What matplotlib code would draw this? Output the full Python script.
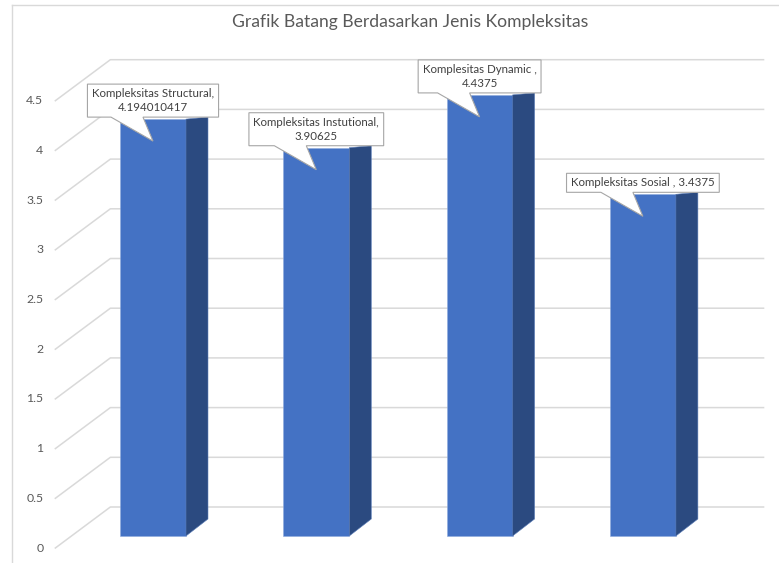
import matplotlib
matplotlib.use("Agg")
import matplotlib.pyplot as plt
import matplotlib.transforms as mt
from matplotlib.patches import Polygon
from matplotlib.lines import Line2D
import numpy as np

# ---------------- data ----------------
categories = ["Kompleksitas Structural", "Kompleksitas Instutional",
              "Komplesitas Dynamic ", "Kompleksitas Sosial "]
values = [4.194010417, 3.90625, 4.4375, 3.4375]
value_texts = ["4.194010417", "3.90625", "4.4375", "3.4375"]
label_separators = ["\n", "\n", "\n", " "]
y_ticks = [0, 0.5, 1, 1.5, 2, 2.5, 3, 3.5, 4, 4.5]
y_tick_labels = ["0", "0.5", "1", "1.5", "2", "2.5", "3", "3.5", "4", "4.5"]
title = "Grafik Batang Berdasarkan Jenis Kompleksitas"

# ---------------- style ----------------
FONT = "Lato"
W, H, DPI = 779, 563, 100
FRONT = "#4472C4"
SIDE = "#2B4A80"
GRID = "#D9D9D9"
TXT = "#595959"
LBL = "#404040"

fig = plt.figure(figsize=(W / DPI, H / DPI), dpi=DPI)
fig.patch.set_facecolor("white")

x0px, xstep = 153.0, 163.3
y0px, ystep = 536.0, 99.4
ax = fig.add_axes([(x0px - 0.5 * xstep) / W, (H - y0px) / H,
                   4 * xstep / W, 5 * ystep / H])
ax.set_xlim(-0.5, 3.5)
ax.set_ylim(0, 5)
ax.axis("off")

IDT = mt.IdentityTransform()


def disp(x, v):
    return np.array(ax.transData.transform((x, v)))


# chart-area border (cropped)
fig.add_artist(Line2D([12 / W, 1], [1 - 5 / H, 1 - 5 / H], color=GRID, lw=1.0,
                      transform=fig.transFigure))
fig.add_artist(Line2D([12 / W, 12 / W], [0, 1 - 5 / H], color=GRID, lw=1.0,
                      transform=fig.transFigure))

# floor / wall gridlines (3D look)
front_off = np.array([-16.0, -12.0])
back_off = np.array([39.0, 29.0])
for v, lab in zip(y_ticks, y_tick_labels):
    pl = disp(-0.5, v)
    pr = disp(3.5, v)
    f = pl + front_off
    b = pl + back_off
    br = pr + back_off
    ax.add_line(Line2D([f[0], b[0], br[0]], [f[1], b[1], br[1]], color=GRID,
                       lw=1.1, transform=IDT, clip_on=False, zorder=1))
    ax.text(f[0] - 12, f[1], lab, transform=IDT, ha="right", va="center",
            fontsize=8.8, color=TXT, family=FONT)

# bars
xs = np.arange(len(categories))
bw = 0.404
ax.bar(xs, values, width=bw, color=FRONT, edgecolor="#8FAADC", linewidth=0.4,
       zorder=3, clip_on=False)
depth = np.array([22.0, 17.0])
for x, v in zip(xs, values):
    a = disp(x + bw / 2, 0)
    d = disp(x + bw / 2, v)
    poly = [a, a + depth, d + np.array([22.0, 2.0]), d]
    ax.add_patch(Polygon(poly, closed=True, facecolor=SIDE, edgecolor="#5B7DB8",
                         lw=0.4, transform=IDT, clip_on=False, zorder=3))

# title
fig.text(410 / W, 1 - 22 / H, title, ha="center", va="center", fontsize=12.6,
         color=TXT, family=FONT)

# callout labels (each line centred separately)
renderer = fig.canvas.get_renderer()
padh, padv, line_h = 4.5, 4.0, 14.0
for x, v, cat, vt, sep in zip(xs, values, categories, value_texts, label_separators):
    lines = f"{cat},{sep}{vt}".split("\n")
    top = disp(x, v)
    cx = top[0]
    boxb = top[1] + 2
    x0s, x1s = [], []
    ytop = boxb + padv
    for k, ln in enumerate(reversed(lines)):
        yb = boxb + padv + k * line_h
        t = ax.text(cx, yb, ln, transform=IDT, ha="center", va="bottom",
                    fontsize=8.3, color=LBL, family=FONT, zorder=6)
        bb = t.get_window_extent(renderer)
        x0s.append(bb.x0)
        x1s.append(bb.x1)
        ytop = max(ytop, bb.y1)
    L, R = min(x0s) - padh, max(x1s) + padh
    T = ytop + padv
    tipy = top[1] - 22
    verts = [(L, boxb), (cx - 42, boxb), (cx, tipy), (cx - 10, boxb),
             (R, boxb), (R, T), (L, T)]
    ax.add_patch(Polygon(verts, closed=True, facecolor="white", edgecolor="#A6A6A6",
                         lw=0.8, transform=IDT, clip_on=False, zorder=5))

fig.savefig("out.png", dpi=DPI)
